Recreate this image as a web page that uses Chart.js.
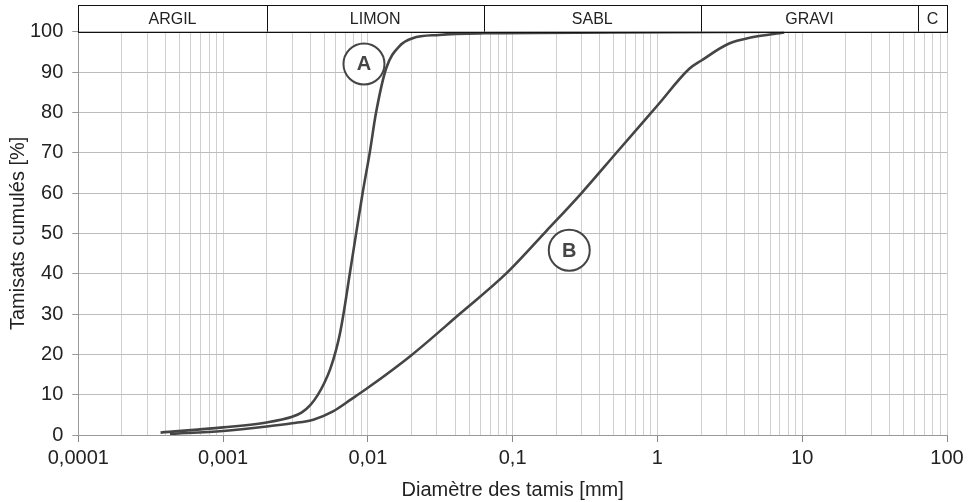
<!DOCTYPE html>
<html>
<head>
<meta charset="utf-8">
<script src="https://cdn.jsdelivr.net/npm/chart.js@4/dist/chart.umd.min.js"></script>
<style>
  body { margin: 0; background: #fff; }
  canvas { display: block; }
</style>
</head>
<body>
<canvas id="chart" width="972" height="502"></canvas>
<script>
// Granulometry curves (diameter in mm, cumulative passing in %)
const diamA = [0.00037, 0.001, 0.002, 0.003, 0.0035, 0.004, 0.0045, 0.005, 0.0055, 0.006, 0.0064, 0.0068, 0.0075, 0.0083, 0.0092, 0.0103, 0.0114, 0.0134, 0.0166, 0.0204, 0.031, 0.063, 0.5, 7.5];
const passA = [0.6, 1.9, 3.1, 4.5, 5.6, 7.4, 9.9, 12.9, 16.4, 20.8, 25, 30.2, 40, 50, 60, 70, 80, 91, 96.5, 98.4, 99.2, 99.6, 99.8, 100];

const diamB = [0.00043, 0.001, 0.002, 0.003, 0.0042, 0.0057, 0.0077, 0.01, 0.02, 0.043, 0.09, 0.17, 0.296, 0.53, 1.0, 1.66, 2.0, 3.1, 4.5, 7.5];
const passB = [0.25, 1.0, 2.1, 2.9, 3.8, 5.8, 8.9, 11.7, 19.8, 30, 40, 50.5, 59.8, 70.3, 81.7, 90.8, 92.8, 97, 98.6, 99.8];

// Soil classes shown in the top band
const bandNames = ["ARGIL", "LIMON", "SABL", "GRAVI", "C"];
const bandLimits = [0.0001, 0.002, 0.063, 2, 63, 100];

// Curve tags
const tagNames = ["A", "B"];
const tagDiam = [0.0094, 0.246];
const tagPass = [92, 45.8];

// Axis ticks
const decades = [0.0001, 0.001, 0.01, 0.1, 1, 10, 100];
const decadeLabels = ["0,0001", "0,001", "0,01", "0,1", "1", "10", "100"];
const yTicks = [0, 10, 20, 30, 40, 50, 60, 70, 80, 90, 100];

const FONT = "'Liberation Sans', Arial, sans-serif";
const LINE = "#454545";

function toPoints(xs, ys) {
  return xs.map((x, i) => ({ x: x, y: ys[i] }));
}

// every 1..9 x 10^n between the decades
function logTicks() {
  const out = [];
  for (let d = 0; d < decades.length - 1; d++) {
    for (let m = 1; m <= 9; m++) out.push(decades[d] * m);
  }
  out.push(decades[decades.length - 1]);
  return out;
}

function isDecade(v) {
  return decades.some((d) => Math.abs(v - d) / d < 1e-6);
}

const bandPlugin = {
  id: "band",
  afterDraw(chart) {
    const { ctx, chartArea } = chart;
    const xs = chart.scales.x;
    const top = 5, bottom = chartArea.top;
    ctx.save();
    ctx.strokeStyle = "#111";
    ctx.lineWidth = 1;
    ctx.fillStyle = "#222";
    ctx.font = "16px " + FONT;
    ctx.textAlign = "center";
    ctx.textBaseline = "middle";
    ctx.strokeRect(Math.round(chartArea.left) + 0.5, top + 0.5, Math.round(chartArea.right - chartArea.left), Math.round(bottom - top));
    for (let i = 0; i < bandNames.length; i++) {
      const x0 = xs.getPixelForValue(bandLimits[i]);
      const x1 = xs.getPixelForValue(bandLimits[i + 1]);
      if (i > 0) {
        ctx.beginPath();
        ctx.moveTo(Math.round(x0) + 0.5, top);
        ctx.lineTo(Math.round(x0) + 0.5, bottom);
        ctx.stroke();
      }
      ctx.fillText(bandNames[i], (x0 + x1) / 2, (top + bottom) / 2 + 1);
    }
    ctx.restore();
  },
};

const tagPlugin = {
  id: "tags",
  afterDatasetsDraw(chart) {
    const { ctx } = chart;
    ctx.save();
    for (let i = 0; i < tagNames.length; i++) {
      const x = chart.scales.x.getPixelForValue(tagDiam[i]);
      const y = chart.scales.y.getPixelForValue(tagPass[i]);
      ctx.beginPath();
      ctx.arc(x, y, 20.5, 0, Math.PI * 2);
      ctx.fillStyle = "#fff";
      ctx.fill();
      ctx.lineWidth = 2;
      ctx.strokeStyle = LINE;
      ctx.stroke();
      ctx.fillStyle = LINE;
      ctx.font = "bold 20px " + FONT;
      ctx.textAlign = "center";
      ctx.textBaseline = "middle";
      ctx.fillText(tagNames[i], x, y + 1);
    }
    ctx.restore();
  },
};

new Chart(document.getElementById("chart"), {
  type: "line",
  data: {
    datasets: [
      { label: "A", data: toPoints(diamA, passA) },
      { label: "B", data: toPoints(diamB, passB) },
    ],
  },
  options: {
    responsive: false,
    animation: false,
    layout: { padding: { top: 31.7, right: 25, left: 2, bottom: 0 } },
    elements: {
      line: { borderColor: LINE, borderWidth: 2.6, cubicInterpolationMode: "monotone", fill: false },
      point: { radius: 0 },
    },
    plugins: { legend: { display: false }, tooltip: { enabled: false } },
    scales: {
      x: {
        type: "logarithmic",
        min: 0.0001,
        max: 100,
        afterBuildTicks: (scale) => {
          scale.ticks = logTicks().map((v) => ({ value: v }));
        },
        afterFit: (scale) => {
          scale.height = 67;
        },
        ticks: {
          autoSkip: false,
          maxRotation: 0,
          padding: 4,
          color: "#222",
          font: { family: FONT, size: 20 },
          callback: (v) => {
            const i = decades.findIndex((d) => Math.abs(v - d) / d < 1e-6);
            return i >= 0 ? decadeLabels[i] : "";
          },
        },
        grid: {
          color: "#d0d0d0",
          lineWidth: 1,
          tickLength: 7,
          tickColor: (c) => (c.tick && isDecade(c.tick.value) ? "#888" : "rgba(0,0,0,0)"),
        },
        border: { color: "#999" },
        title: {
          display: true,
          text: "Diamètre des tamis [mm]",
          color: "#222",
          font: { family: FONT, size: 20 },
          padding: { top: 0, bottom: 0 },
        },
      },
      y: {
        min: 0,
        max: 100,
        afterBuildTicks: (scale) => {
          scale.ticks = yTicks.map((v) => ({ value: v }));
        },
        afterFit: (scale) => {
          scale.width = 76.3;
        },
        ticks: {
          padding: 9,
          color: "#222",
          font: { family: FONT, size: 20 },
        },
        grid: { color: "#bcbcbc", lineWidth: 1, tickLength: 6, tickColor: "#999" },
        border: { color: "#999" },
        title: {
          display: true,
          text: "Tamisats cumulés [%]",
          color: "#222",
          font: { family: FONT, size: 20 },
          padding: { top: 4, bottom: 0 },
        },
      },
    },
  },
  plugins: [bandPlugin, tagPlugin],
});
</script>
</body>
</html>
